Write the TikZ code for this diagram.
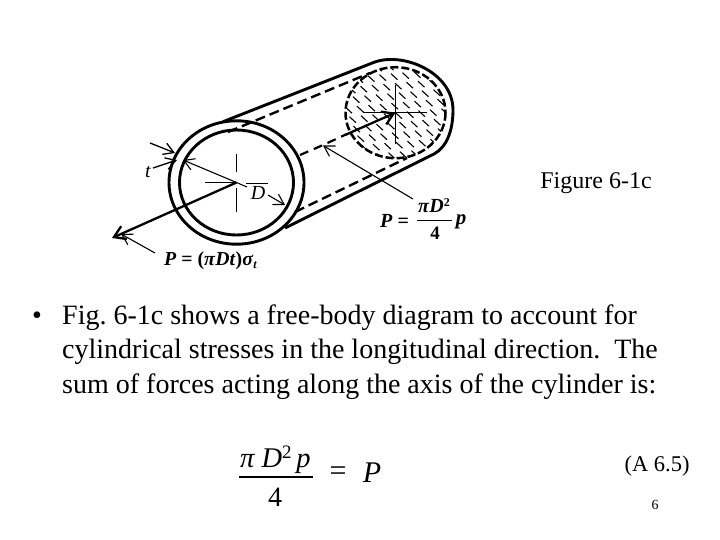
\documentclass[tikz,border=0pt]{standalone}
\usepackage{fontspec}
\setmainfont{Liberation Serif}
\usetikzlibrary{arrows.meta}
\tikzset{
  body/.style={line width=2.9pt,black},
  hid/.style={line width=2.4pt,black,dash pattern=on 10pt off 5pt},
  thin leader/.style={line width=1.1pt,-{Straight Barb[length=10pt,width=12pt]}},
  thick leader/.style={line width=2.3pt,-{Straight Barb[length=11pt,width=14pt]}},
  axis/.style={line width=1pt},
  fig/.style={inner sep=0pt},
  slide/.style={inner sep=0pt,anchor=west,font=\fontsize{28pt}{30pt}\selectfont},
}
\begin{document}
\begin{tikzpicture}[x=1pt,y=-1pt]
\frenchspacing
\useasboundingbox (0,0) rectangle (720,540);
\fill[white] (0,0) rectangle (720,540);
% named reference points
\coordinate (cf) at (236.5,182.5);
\coordinate (cb) at (395.5,112.7);
\coordinate (pend) at (112,238);
\coordinate (ta) at (150,143);
\coordinate (tb) at (175,153);
\coordinate (tc) at (153,168);
\coordinate (td) at (177,160);
\coordinate (da) at (183,160);
\coordinate (db) at (247,187);
\coordinate (dc) at (268,195);
\coordinate (dd) at (285,205);
\coordinate (pl) at (155,253);
\coordinate (pm) at (121,234);
\coordinate (ql) at (413,199);
\coordinate (qm) at (323,145.5);
% hatch on the far section
\begin{scope}
  \clip (cb) ellipse [x radius=50,y radius=45.5];
  \foreach \i in {-7,...,7} \foreach \j in {-7,...,7}
    \draw[line width=1.1pt] (395.5+\i*11.5+\j*4,112.7+\j*9.5-\i*1) -- ++(6.5,6);
\end{scope}
\draw[line width=2.5pt,dash pattern=on 8pt off 3pt] (cb) ellipse [x radius=50,y radius=45.5];
% far-end outer arc and tube outlines
\draw[body] (223,121.7) -- (373,62.7) .. controls (402,51) and (453,72) .. (453,110) .. controls (453,130) and (447,147) .. (434,154) -- (285,228);
% far-section axes
\draw[axis] (363,113) -- (427,113);
\draw[axis,line width=1.3pt] (395.5,85) -- (395.5,144);
% near-end rings
\draw[body,fill=white] (cf) ellipse [x radius=67.5,y radius=61.7];
\draw[body] (cf) ellipse [x radius=57,y radius=52.5];
\draw[hid] (228,132) -- (370,73);
\draw[hid] (295,212) -- (407,158);
% axes of the near section
\draw[axis] (205,183) -- (236,183);
\draw[axis] (236,154) -- (236,172);
\draw[axis] (236,188) -- (236,212);
% centre line
\draw[line width=2.2pt,dash pattern=on 9pt off 6pt] (300,155) -- (322,145.5) -- (347,134);
\draw[thick leader] (345,135) -- (cb);
\draw[thick leader] (cf) -- (pend);
% leaders
\draw[thin leader,line width=1.3pt] (ta) -- (tb);
\draw[thin leader,line width=1.3pt] (tc) -- (td);
\draw[thin leader] (cf) -- (da);
\draw[axis] (cf) -- (db);
\draw[thin leader] (dc) -- (dd);
\draw[thin leader] (pl) -- (pm);
\draw[thin leader] (ql) -- (qm);
% figure labels
\node[fig,font=\fontsize{20pt}{22pt}\selectfont\itshape] (tlab) at (148,172) {t};
\node[fig,font=\fontsize{20pt}{22pt}\selectfont\itshape] (dlab) at (258,193) {D};
\draw[axis] (246,183.5) -- (268,183.5);
\node[fig,anchor=west,font=\fontsize{19.8pt}{21pt}\selectfont\bfseries] (plab) at (164,261)
  {\textit{P} = (\textit{π}\textit{Dt})\textit{σ}\raisebox{-3pt}{\fontsize{12pt}{13pt}\selectfont\textit{t}}};
\node[fig,anchor=west,font=\fontsize{20pt}{22pt}\selectfont\bfseries] (qlab) at (380,221) {\textit{P} =};
\node[fig,font=\fontsize{20pt}{22pt}\selectfont\bfseries] (qnum) at (434,206) {\textit{π}\textit{D}\raisebox{6pt}{\fontsize{12pt}{13pt}\selectfont 2}};
\node[fig,font=\fontsize{19pt}{21pt}\selectfont\bfseries] (qden) at (435,233) {4};
\draw[line width=1.6pt] (417,220.5) -- (452,220.5);
\node[fig,font=\fontsize{21pt}{23pt}\selectfont\itshape\bfseries] (qp) at (461,222) {p};
% slide text
\node[inner sep=0pt,font=\fontsize{24pt}{26pt}\selectfont] (figlab) at (596,183.5) {Figure 6-1c};
\node[slide] (bul) at (32,318) {•};
\node[slide] (l1) at (62,318) {Fig. 6-1c shows a free-body diagram to account for};
\node[slide] (l2) at (62,352) {cylindrical stresses in the longitudinal direction.\ \ The};
\node[slide] (l3) at (62,387) {sum of forces acting along the axis of the cylinder is:};
% formula
\node[inner sep=0pt,anchor=base west,font=\fontsize{28.5pt}{30pt}\selectfont\itshape] (num) at (240,467) {π D\raisebox{9pt}{\upshape\fontsize{19pt}{20pt}\selectfont 2}\,p};
\draw[line width=1.1pt] (239,477) -- (313,477);
\node[inner sep=0pt,font=\fontsize{28pt}{30pt}\selectfont] (den) at (275,497) {4};
\node[inner sep=0pt,font=\fontsize{30pt}{32pt}\selectfont] (eq) at (338,474) {=};
\node[inner sep=0pt,font=\fontsize{30pt}{32pt}\selectfont\itshape] (rhs) at (372,473) {P};
\node[inner sep=0pt,font=\fontsize{22.5pt}{25pt}\selectfont] (eqno) at (657,466) {(A 6.5)};
\node[inner sep=0pt,font=\fontsize{14pt}{16pt}\selectfont] (pg) at (655,505) {6};
\end{tikzpicture}
\end{document}
